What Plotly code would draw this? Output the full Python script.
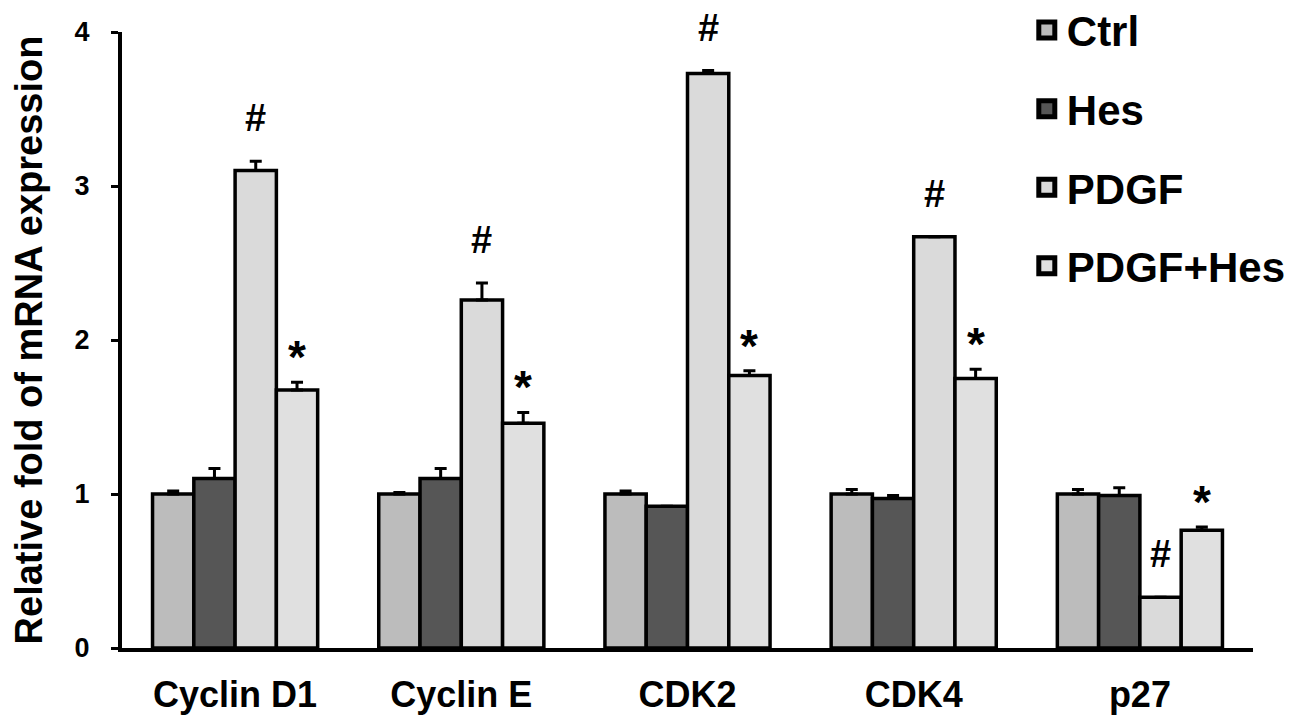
import plotly.graph_objects as go

categories = ["Cyclin D1", "Cyclin E", "CDK2", "CDK4", "p27"]
groups = ["Ctrl", "Hes", "PDGF", "PDGF+Hes"]
ctrl = [1.00, 1.00, 1.00, 1.00, 1.00]
hes = [1.10, 1.10, 0.92, 0.97, 0.99]
pdgf = [3.10, 2.26, 3.73, 2.67, 0.33]
pdgf_hes = [1.675, 1.46, 1.77, 1.75, 0.765]
ctrl_err = [0.02, 0.01, 0.02, 0.03, 0.03]
hes_err = [0.065, 0.065, 0.0, 0.02, 0.05]
pdgf_err = [0.06, 0.11, 0.02, 0.0, 0.0]
pdgf_hes_err = [0.05, 0.07, 0.03, 0.06, 0.02]
pdgf_marks = ["#", "#", "#", "#", "#"]
pdgf_hes_marks = ["*", "*", "*", "*", "*"]

values = [ctrl, hes, pdgf, pdgf_hes]
errors = [ctrl_err, hes_err, pdgf_err, pdgf_hes_err]
colors = ["#bcbcbc", "#565656", "#dadada", "#e0e0e0"]

FONT = "Liberation Sans, Arial, sans-serif"
BARGAP = 0.27

fig = go.Figure()
for name, vals, errs, col in zip(groups, values, errors, colors):
    fig.add_trace(go.Bar(
        name=name, x=categories, y=vals, showlegend=False,
        marker=dict(color=col, line=dict(color="black", width=3.5)),
        error_y=dict(type="data", array=errs, arrayminus=[0] * len(errs), symmetric=False,
                     color="black", thickness=3, width=6),
    ))
# legend entries (square swatches)
for name, col in zip(groups, colors):
    fig.add_trace(go.Scatter(
        name=name, x=[None], y=[None], mode="markers", legendgroup=name,
        marker=dict(symbol="square", size=16, color=col, line=dict(color="black", width=5)),
    ))

bar_w = (1 - BARGAP) / 4
offsets = [(-1.5 + k) * bar_w for k in range(4)]
for i in range(len(categories)):
    fig.add_annotation(x=i + offsets[2], y=pdgf[i] + pdgf_err[i], text=pdgf_marks[i],
                       showarrow=False, yanchor="bottom", yshift=20,
                       font=dict(family=FONT, size=38, color="black", weight="bold"))
    fig.add_annotation(x=i + offsets[3], y=pdgf_hes[i] + pdgf_hes_err[i], text=pdgf_hes_marks[i],
                       showarrow=False, yanchor="bottom", yshift=-3,
                       font=dict(family=FONT, size=46, color="black", weight="bold"))

fig.update_layout(
    width=1285, height=719,
    margin=dict(l=114, r=40, t=24, b=79, autoexpand=False),
    paper_bgcolor="white", plot_bgcolor="white",
    barmode="group", bargap=BARGAP, bargroupgap=0,
    font=dict(family=FONT, color="black"),
    legend=dict(x=0.800, y=1.058, yanchor="top", xanchor="left",
                font=dict(family=FONT, size=42, color="black", weight="bold"),
                tracegroupgap=21, bgcolor="rgba(0,0,0,0)", itemsizing="trace"),
    xaxis=dict(range=[-0.5, 4.5], showline=True, linecolor="black", linewidth=4,
               ticks="", showgrid=False, ticklabelstandoff=12,
               tickfont=dict(family=FONT, size=36, color="black", weight="bold")),
    yaxis=dict(range=[0, 4], tickvals=[0, 1, 2, 3, 4], showline=True, linecolor="black",
               linewidth=4, ticks="outside", ticklen=7, tickwidth=2.5, tickcolor="black",
               showgrid=False, zeroline=False, ticklabelstandoff=16,
               tickfont=dict(family=FONT, size=27, color="black", weight="bold"),
               title=dict(text="Relative fold of mRNA expression", standoff=22,
                          font=dict(family=FONT, size=38, color="black", weight="bold"))),
)

fig.write_html("out.html")
